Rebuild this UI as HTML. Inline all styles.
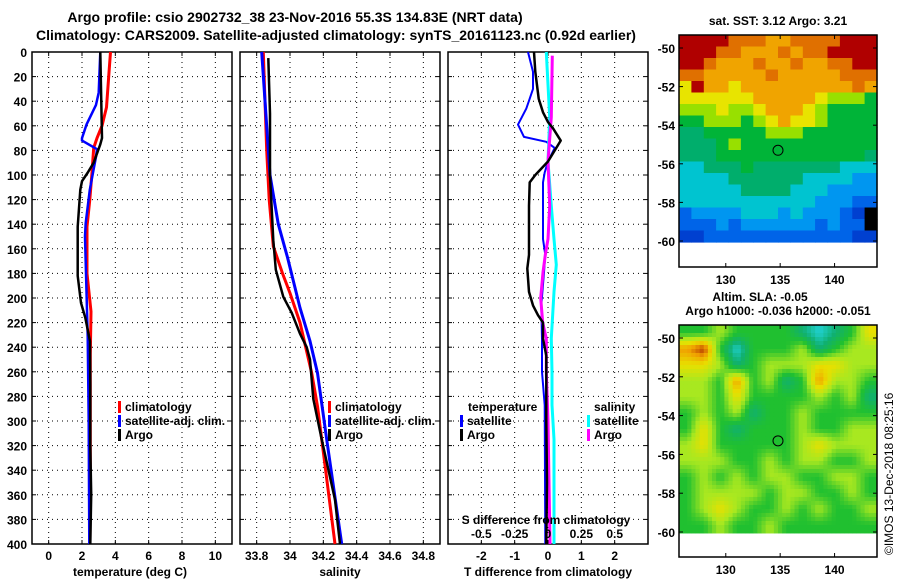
<!DOCTYPE html>
<html><head><meta charset="utf-8"><style>
html,body{margin:0;padding:0;background:#fff}
svg{display:block}
text{font-family:"Liberation Sans",sans-serif;font-weight:bold;fill:#000}
</style></head><body>
<svg id="fig" width="900" height="580" viewBox="0 0 900 580" xmlns="http://www.w3.org/2000/svg">
<text x="295" y="22" font-size="14" text-anchor="middle">Argo profile: csio 2902732_38 23-Nov-2016 55.3S 134.83E (NRT data)</text>
<text x="336" y="40" font-size="14" text-anchor="middle">Climatology: CARS2009. Satellite-adjusted climatology: synTS_20161123.nc (0.92d earlier)</text>
<g id="g"></g>
</svg>
<script>
// ---- data ----
const depthTicks=[0,20,40,60,80,100,120,140,160,180,200,220,240,260,280,300,320,340,360,380,400];
const tTicks=[0,2,4,6,8,10];
const sTicks=[33.8,34,34.2,34.4,34.6,34.8];
const sTickLabels=["33.8","34","34.2","34.4","34.6","34.8"];
const dTicks=[-2,-1,0,1,2];
const sdTicks=[-0.5,-0.25,0,0.25,0.5];
const sdTickLabels=["-0.5","-0.25","0","0.25","0.5"];

const tClimDepth=[0,20,45,60,70,78,98,120,142,180,211,246,300,341,400];
const tClim=[3.71,3.6,3.47,3.2,2.9,2.7,2.6,2.47,2.3,2.3,2.54,2.5,2.5,2.5,2.48];
const tSatDepth=[0,33,43,59,70,72,79,85,112,139,150,180,231,300,400];
const tSat=[3.1,3.0,2.84,2.27,2.0,2.0,2.9,2.84,2.47,2.22,2.18,2.24,2.34,2.4,2.44];
const tArgoDepth=[0,70,75,90,98,105,112,142,182,204,216,235,270,320,360,400];
const tArgo=[3.1,3.2,3.1,2.7,2.35,2.0,1.9,1.74,1.74,1.94,2.2,2.48,2.5,2.5,2.55,2.5];

const sClimDepth=[0,40,80,120,158,180,196,220,261,288,400];
const sClim=[33.84,33.85,33.86,33.875,33.9,33.955,34.0,34.06,34.13,34.165,34.27];
const sSatDepth=[0,100,140,167,208,235,261,315,400];
const sSat=[33.83,33.88,33.93,33.985,34.06,34.12,34.165,34.22,34.31];
const sArgoDepth=[5,50,100,153,177,199,212,229,240,250,282,315,364,400];
const sArgo=[33.87,33.88,33.88,33.9,33.915,33.96,34.01,34.06,34.1,34.12,34.14,34.19,34.27,34.3];

const dtSatDepth=[0,16,30,38,46,59,69,73,78,89,98,106,152,165,179,206,233,260,287,400];
const dtSat=[-0.6,-0.45,-0.45,-0.55,-0.65,-0.9,-0.72,-0.05,0.2,0,-0.1,-0.15,-0.15,-0.08,-0.12,-0.2,-0.18,-0.18,-0.1,-0.08];
const dtArgoDepth=[0,16,38,49,57,62,72,78,89,100,106,125,165,176,195,206,214,220,233,247,300,350,400];
const dtArgo=[-0.42,-0.38,-0.28,-0.15,0,0.15,0.38,0.25,0,-0.38,-0.55,-0.57,-0.57,-0.62,-0.57,-0.45,-0.3,-0.15,-0.15,-0.05,-0.05,-0.03,-0.05];
const dsSatDepth=[0,53,89,125,152,173,195,233,260,287,315,400];
const dsSat=[-0.0125,0.0125,0,0.025,0.045,0.0625,0.045,0.025,0.03,0.03,0.045,0.045];
const dsArgoDepth=[3,53,89,125,152,165,179,200,220,233,260,300,400];
const dsArgo=[0.0325,0.025,0,0.0125,0,-0.02,-0.0375,-0.055,-0.04,-0.0125,-0.0125,0,0.015];

const sstGrid=[
[10,10,10,10,9,9,9,8,8,9,9,9,9,10,10,10],
[10,10,10,9,9,8,8,8,9,8,9,9,10,10,10,10],
[10,10,9,8,8,8,9,8,8,9,8,8,9,9,10,10],
[9,9,8,8,8,8,8,9,8,8,8,8,8,9,9,9],
[7,10,8,8,7,8,8,8,8,8,8,8,8,8,9,8],
[7,7,7,7,7,7,8,8,8,8,8,7,6,6,6,5],
[6,6,6,7,6,6,7,8,8,8,7,6,5,5,5,5],
[5,5,6,6,6,5,6,7,8,7,7,6,5,5,5,5],
[4,4,5,5,5,5,5,6,6,6,5,5,5,5,5,5],
[4,4,4,5,6,5,5,5,5,5,5,5,5,5,5,5],
[4,4,4,5,5,5,5,5,5,5,5,5,5,5,5,4],
[3,3,4,4,4,5,4,4,4,4,4,4,4,3,3,3],
[3,3,3,3,4,4,4,4,4,4,3,3,3,3,2,2],
[3,3,3,3,3,4,4,4,4,3,3,3,2,2,2,2],
[3,3,3,3,3,3,3,3,3,3,3,2,2,2,1,1],
[1,2,2,2,2,3,3,3,2,3,2,2,2,1,0,-1],
[1,1,1,2,1,2,2,2,2,2,2,1,2,1,1,-1],
[0,0,1,1,1,1,1,1,1,1,1,1,1,1,0,0]];
const slaGrid=[
[2,2,3,2,2,2,2,1,0,1,2,4],
[5,6,2,0,2,2,2,3,1,2,3,3],
[4,4,3,1,2,3,3,3,4,4,3,3],
[3,3,2,5,2,3,1,2,5,3,3,2],
[3,3,2,4,2,2,2,2,3,2,3,1],
[2,3,2,3,1,2,2,3,2,2,2,2],
[2,4,2,1,2,2,2,3,2,2,3,3],
[3,4,2,2,2,2,2,3,4,3,3,3],
[3,3,3,2,2,3,2,3,3,2,2,3],
[2,3,2,3,2,3,3,2,2,3,3,2],
[2,3,3,3,3,2,3,3,2,2,3,2],
[2,3,4,3,2,2,3,2,3,2,2,3],
[2,2,3,2,2,3,2,2,2,2,2,2]];
const latTicks=[-50,-52,-54,-56,-58,-60];
const lonTicks=[130,135,140];
const argoLon=134.8, argoLat=-55.3;

// ---- helpers ----
const NS="http://www.w3.org/2000/svg";
const G=document.getElementById('g');
function mk(tag,attrs,parent){const e=document.createElementNS(NS,tag);for(const k in attrs)e.setAttribute(k,attrs[k]);(parent||G).appendChild(e);return e;}
function txt(x,y,s,size,anchor,parent){const e=mk('text',{x:x,y:y,'font-size':size,'text-anchor':anchor||'middle'},parent);e.textContent=s;return e;}

const PT=52,PB=544;
const yD=d=>PT+(d/400)*(PB-PT);
const panels=[
 {x0:32,name:'temperature-panel'},
 {x0:240,name:'salinity-panel'},
 {x0:448,name:'t-difference-panel'}];
const xT=v=>32+(v+1)*200/12;
const xS=v=>240+(v-33.7)*200/1.2;
const xDT=v=>448+(v+3)*200/6;
const xDS=v=>448+(v+0.75)*200/1.5;

function frame(p,xticks,xf,labels){
  const g=mk('g',{});
  
  
  depthTicks.forEach(d=>{
    const l=mk('line',{x1:p.x0,x2:p.x0+200,y1:yD(d),y2:yD(d),stroke:'#000','stroke-width':1,'stroke-dasharray':'1,4'},g);
    
    mk('line',{x1:p.x0,x2:p.x0+4,y1:yD(d),y2:yD(d),stroke:'#000'},g);
    mk('line',{x1:p.x0+196,x2:p.x0+200,y1:yD(d),y2:yD(d),stroke:'#000'},g);
  });
  xticks.forEach((v,i)=>{
    const x=xf(v);
    const l=mk('line',{x1:x,x2:x,y1:PT,y2:PB,stroke:'#000','stroke-width':1,'stroke-dasharray':'1,4'},g);
    
    mk('line',{x1:x,x2:x,y1:PB-4,y2:PB,stroke:'#000'},g);
    mk('line',{x1:x,x2:x,y1:PT,y2:PT+4,stroke:'#000'},g);
    const t=txt(x,560,labels[i],12,'middle',g);
    
  });
  const r=mk('rect',{x:p.x0,y:PT,width:200,height:PB-PT,fill:'none',stroke:'#000','stroke-width':1.5},g);
  
  return g;
}
function line(g,depths,vals,xf,color,w,name){
  const pts=depths.map((d,i)=>xf(vals[i]).toFixed(1)+','+yD(d).toFixed(1)).join(' ');
  const pl=mk('polyline',{points:pts,fill:'none',stroke:color,'stroke-width':w,'stroke-linejoin':'round'},g);
  
  
}
function legendItem(g,x,y,color,label,name){
  mk('rect',{x:x,y:y-10,width:3,height:12,fill:color},g);
  const t=txt(x+7,y,label,12,'start',g);
  
}

// Panel 1
const g1=frame(panels[0],tTicks,xT,tTicks.map(String));
line(g1,tClimDepth,tClim,xT,'#ff0000',3,'temperature-climatology-line');
line(g1,tSatDepth,tSat,xT,'#0000ff',2.5,'temperature-satellite-line');
line(g1,tArgoDepth,tArgo,xT,'#000000',2.5,'temperature-argo-line');
depthTicks.forEach(d=>{const t=txt(27,yD(d)+5,String(d),12,'end');});
legendItem(g1,118,411,'#ff0000','climatology','legend-climatology');
legendItem(g1,118,425,'#0000ff','satellite-adj. clim.','legend-satellite-adj');
legendItem(g1,118,439,'#000000','Argo','legend-argo');
{const t=txt(130,576,'temperature (deg C)',12);}

// Panel 2
const g2=frame(panels[1],sTicks,xS,sTickLabels);
line(g2,sClimDepth,sClim,xS,'#ff0000',3,'salinity-climatology-line');
line(g2,sSatDepth,sSat,xS,'#0000ff',3,'salinity-satellite-line');
line(g2,sArgoDepth,sArgo,xS,'#000000',2.5,'salinity-argo-line');
legendItem(g2,328,411,'#ff0000','climatology','legend-climatology');
legendItem(g2,328,425,'#0000ff','satellite-adj. clim.','legend-satellite-adj');
legendItem(g2,328,439,'#000000','Argo','legend-argo');
{const t=txt(340,576,'salinity',12);}

// Panel 3
const g3=frame(panels[2],dTicks,xDT,dTicks.map(String));
line(g3,dtSatDepth,dtSat,xDT,'#0000ff',2,'t-diff-satellite-line');
line(g3,dsSatDepth,dsSat,xDS,'#00ffff',3,'s-diff-satellite-line');
line(g3,dsArgoDepth,dsArgo,xDS,'#ff00ff',3,'s-diff-argo-line');
line(g3,dtArgoDepth,dtArgo,xDT,'#000000',2.5,'t-diff-argo-line');
{const t=txt(468,411,'temperature',12,'start',g3);}
legendItem(g3,460,425,'#0000ff','satellite','legend-t-satellite');
legendItem(g3,460,439,'#000000','Argo','legend-t-argo');
{const t=txt(594,411,'salinity',12,'start',g3);}
legendItem(g3,587,425,'#00ffff','satellite','legend-s-satellite');
legendItem(g3,587,439,'#ff00ff','Argo','legend-s-argo');
{const t=txt(546,524,'S difference from climatology',12,'middle',g3);}
sdTicks.forEach((v,i)=>{const t=txt(xDS(v),538,sdTickLabels[i],12,'middle',g3);});
{const t=txt(548,576,'T difference from climatology',12);}

// ---- maps ----
const MX0=679,MX1=877,LON0=125.7,LON1=143.9;
const xLon=l=>MX0+(l-LON0)*(MX1-MX0)/(LON1-LON0);
const sstColors={'-1':'#000000',0:'#0040d0',1:'#0064e8',2:'#0096f0',3:'#00c4d0',4:'#00ae6c',5:'#00b438',6:'#98e000',7:'#e8e400',8:'#f0a400',9:'#e07000',10:'#b00000'};
const slaColors=[[32,208,208],[16,176,112],[32,192,48],[168,232,32],[232,224,0],[240,160,0],[176,48,0]];

const sstY=lat=>48+(-50-lat)*19.3;
const gm1=mk('g',{});

{
 const rows=sstGrid.length, cols=sstGrid[0].length;
 const top=35,bot=sstY(-60.05);
 const cw=(MX1-MX0)/cols, ch=(bot-top)/rows;
 sstGrid.forEach((row,r)=>row.forEach((v,c)=>{
   const cell=mk('rect',{x:(MX0+c*cw).toFixed(1),y:(top+r*ch).toFixed(1),width:(cw+0.6).toFixed(1),height:(ch+0.6).toFixed(1),fill:sstColors[v]},gm1);
   
   
 }));
}
function mapAxes(g,top,bottom,yf,labelY){
  latTicks.forEach(l=>{
    const y=yf(l);
    mk('line',{x1:MX0,x2:MX0+4,y1:y,y2:y,stroke:'#000'},g);
    mk('line',{x1:MX1-4,x2:MX1,y1:y,y2:y,stroke:'#000'},g);
    const t=txt(675,y+5,String(l),12,'end',g);
  });
  lonTicks.forEach(l=>{
    const x=xLon(l);
    mk('line',{x1:x,x2:x,y1:top,y2:top+4,stroke:'#000'},g);
    mk('line',{x1:x,x2:x,y1:bottom-4,y2:bottom,stroke:'#000'},g);
    const t=txt(x,labelY,String(l),12,'middle',g);
  });
  const r=mk('rect',{x:MX0,y:top,width:MX1-MX0,height:bottom-top,fill:'none',stroke:'#000','stroke-width':1.5},g);
  
  const c=mk('circle',{cx:xLon(argoLon),cy:yf(argoLat),r:5,fill:'none',stroke:'#000','stroke-width':1},g);
  
}
mapAxes(gm1,35,267,sstY,284);
{const t=txt(778,25,'sat. SST: 3.12 Argo: 3.21',12);}

// SLA map (bilinear-smoothed from slaGrid)
const slaY=lat=>338+(-50-lat)*19.4;
const gm2=mk('g',{});

function slaColor(v){
  v=Math.max(0,Math.min(6,v));const i=Math.min(5,Math.floor(v)),f=v-i;
  const a=slaColors[i],b=slaColors[i+1];
  return 'rgb('+a.map((x,k)=>Math.round(x+(b[k]-x)*f)).join(',')+')';
}
function slaAt(r,c){
  const R=slaGrid.length,C=slaGrid[0].length;
  r=Math.max(0,Math.min(R-1,r));c=Math.max(0,Math.min(C-1,c));
  const r0=Math.floor(r),c0=Math.floor(c),r1=Math.min(R-1,r0+1),c1=Math.min(C-1,c0+1);
  const fr=r-r0,fc=c-c0;
  return slaGrid[r0][c0]*(1-fr)*(1-fc)+slaGrid[r0][c1]*(1-fr)*fc+slaGrid[r1][c0]*fr*(1-fc)+slaGrid[r1][c1]*fr*fc;
}
{
 const rows=slaGrid.length, cols=slaGrid[0].length;
 const top=325,bot=slaY(-60.05);
 const SUB=4;
 const cw=(MX1-MX0)/cols/SUB, ch=(bot-top)/rows/SUB;
 for(let r=0;r<rows*SUB;r++)for(let c=0;c<cols*SUB;c++){
   const v=slaAt((r+0.5)/SUB-0.5,(c+0.5)/SUB-0.5);
   const cell=mk('rect',{x:(MX0+c*cw).toFixed(2),y:(top+r*ch).toFixed(2),width:(cw+0.5).toFixed(2),height:(ch+0.5).toFixed(2),fill:slaColor(v)},gm2);
   
   
 }
}
mapAxes(gm2,325,557,slaY,574);
{const t=txt(760,301,'Altim. SLA: -0.05',12);}
{const t=txt(778,315,'Argo h1000: -0.036 h2000: -0.051',12);}
{const t=mk('text',{x:0,y:0,'font-size':12,'text-anchor':'start',transform:'translate(893,555) rotate(-90)'});
 t.style.fontWeight='normal';t.textContent='©IMOS 13-Dec-2018 08:25:16';
 }
</script>
</body></html>
